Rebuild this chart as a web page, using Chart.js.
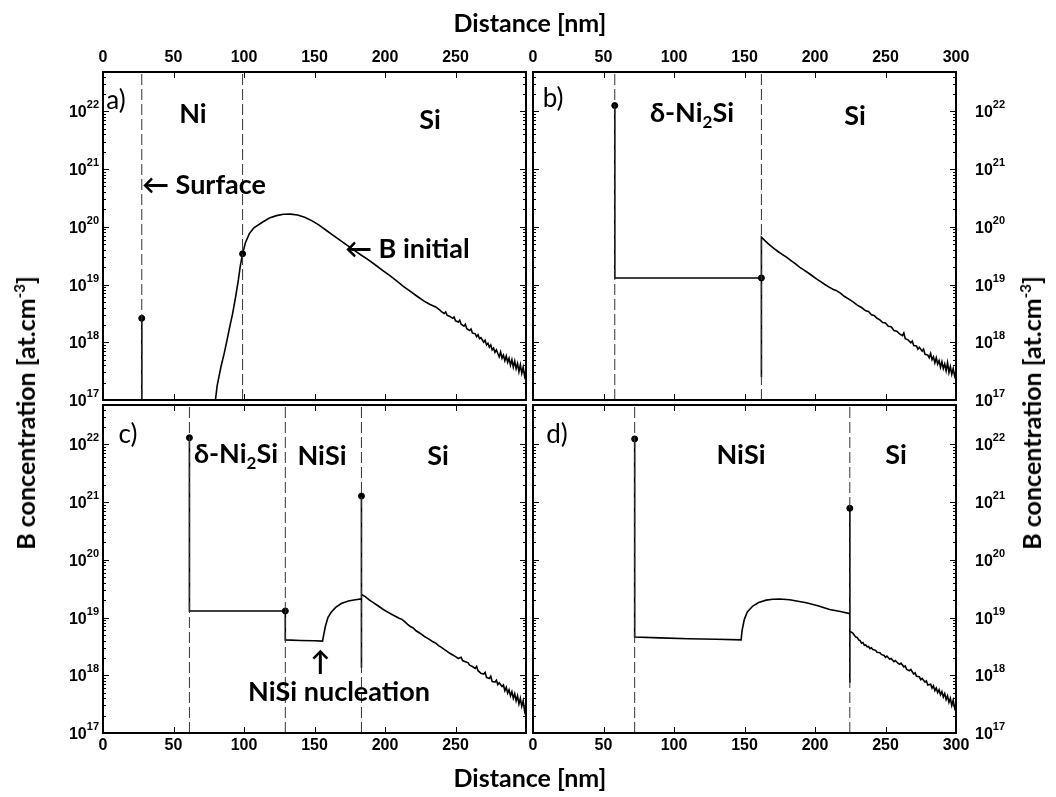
<!DOCTYPE html>
<html>
<head>
<meta charset="utf-8">
<script src="https://cdn.jsdelivr.net/npm/chart.js"></script>
<style>
  body { margin: 0; background: #fff; }
  #wrap { position: relative; width: 1056px; height: 797px; font-family: Lato, "Open Sans", sans-serif; color: #000; }
  canvas { position: absolute; left: 0; top: 0; }
  .t { position: absolute; white-space: nowrap; line-height: 1; font-weight: bold; font-size: 27px; transform: translate(-50%, -50%); }
  .l { transform: translate(0, -50%); }
  .tag { font-weight: normal; font-size: 26px; }
  .ax { font-size: 25px; }
  .rot { transform: translate(-50%, -50%) rotate(-90deg); }
  sub { font-size: 17px; vertical-align: -6px; }
  sup { font-size: 15px; vertical-align: 10px; }
</style>
</head>
<body>
<div id="wrap">
  <canvas id="pa" width="1056" height="797"></canvas>
  <canvas id="pb" width="1056" height="797"></canvas>
  <canvas id="pc" width="1056" height="797"></canvas>
  <canvas id="pd" width="1056" height="797"></canvas>

  <div class="t ax" style="left:530px; top:22px;">Distance [nm]</div>
  <div class="t ax" style="left:530px; top:777px;">Distance [nm]</div>
  <div class="t ax rot" style="left:25px; top:413px;">B concentration [at.cm<sup>-3</sup>]</div>
  <div class="t ax rot" style="left:1031px; top:413px;">B concentration [at.cm<sup>-3</sup>]</div>

  <div class="t tag" style="left:116px; top:99px;">a)</div>
  <div class="t" style="left:193px; top:112px;">Ni</div>
  <div class="t" style="left:430px; top:118px;">Si</div>
  <div class="t l" style="left:142px; top:183px;">&larr; Surface</div>
  <div class="t l" style="left:345px; top:247px;">&larr; B initial</div>

  <div class="t tag" style="left:553px; top:97px;">b)</div>
  <div class="t" style="left:692px; top:114px;">&delta;-Ni<sub>2</sub>Si</div>
  <div class="t" style="left:855px; top:114px;">Si</div>

  <div class="t tag" style="left:128px; top:433px;">c)</div>
  <div class="t" style="left:236px; top:455px;">&delta;-Ni<sub>2</sub>Si</div>
  <div class="t" style="left:322px; top:454px;">NiSi</div>
  <div class="t" style="left:438px; top:454px;">Si</div>
  <div class="t" style="left:320px; top:660px;">&uarr;</div>
  <div class="t" style="left:339px; top:690px;">NiSi nucleation</div>

  <div class="t tag" style="left:557px; top:433px;">d)</div>
  <div class="t" style="left:741px; top:453px;">NiSi</div>
  <div class="t" style="left:896px; top:453px;">Si</div>
</div>

<script>
// Axis ranges and tick labels
const xMin = 0, xMax = 300;
const yMin = 1e17, yMax = 4.8e22;
const yTickExps = [17, 18, 19, 20, 21, 22];
const xTicksAC = [0, 50, 100, 150, 200, 250];
const xTicksBD = [0, 50, 100, 150, 200, 250, 300];

// a) as-implanted profile
const aIfaces = [27.5, 99];
const aSurfX = [27.5, 27.5];
const aSurfY = [2.6e18, 6e16];
const aProfX = [79, 81, 83.7, 86, 88, 90, 92, 94, 96, 97.5, 99, 101, 103.8, 107, 113, 118, 123, 128, 133, 138, 143, 148, 153, 158, 163, 168, 173, 178, 183, 188, 193, 198, 203, 208, 213, 218, 223, 228, 232, 236, 239,
  240, 242, 243, 244, 246, 248, 249, 250, 252, 253, 254, 256, 257, 258, 260, 261, 262, 264, 265, 266, 267, 268, 270, 271, 272, 273, 274, 275, 276, 277, 278, 279, 280, 281, 282, 283, 284, 285, 286, 287, 288, 289, 290, 291, 292, 293, 294, 295, 296, 297, 298, 299, 300];
const aProfY = [7e16, 1.8e17, 3.8e17, 6.5e17, 1.1e18, 1.9e18, 3.2e18, 6e18, 1.2e19, 2.2e19, 3.4e19, 5.3e19, 7.6e19, 9.6e19, 1.2e20, 1.42e20, 1.56e20, 1.65e20, 1.66e20, 1.6e20, 1.46e20, 1.28e20, 1.08e20, 8.8e19, 7.2e19, 5.9e19, 4.8e19, 3.95e19, 3.25e19, 2.7e19, 2.2e19, 1.78e19, 1.45e19, 1.17e19, 9.3e18, 7.6e18, 6.2e18, 5.1e18, 4.5e18, 4.1e18, 3.6e18,
  3.4e18, 3.15e18, 3.35e18, 2.95e18, 2.8e18, 2.6e18, 2.75e18, 2.35e18, 2.25e18, 2.4e18, 2.05e18, 1.9e18, 2.05e18, 1.72e18, 1.6e18, 1.7e18, 1.45e18, 1.4e18, 1.25e18, 1.35e18, 1.15e18, 1.2e18, 1.0e18, 1.08e18, 9.0e17, 9.6e17, 8.2e17, 9.0e17, 7.4e17, 7.9e17, 6.7e17, 7.4e17, 6.4e17, 5.6e17, 6.8e17, 5.3e17, 6.0e17, 4.8e17, 5.8e17, 4.5e17, 5.3e17, 4.0e17, 5.0e17, 3.7e17, 4.7e17, 3.5e17, 4.3e17, 3.1e17, 4.1e17, 2.9e17, 3.7e17, 2.6e17, 3.3e17];
const aDotX = [27.5, 99];
const aDotY = [2.6e18, 3.4e19];

// b) delta-Ni2Si
const bIfaces = [58, 162];
const bProfX = [58, 58, 162, 162, 162, 165, 168, 171, 174, 177, 180, 183, 186, 189, 192, 195, 198, 201, 204, 207, 210, 213, 215, 218, 221, 224, 227, 230, 233, 236, 238, 240, 242, 244, 246, 248, 250, 252, 254, 256, 258, 260, 262, 263, 264, 266, 268, 269, 270, 272, 273, 274, 276, 277, 278, 280, 281, 282, 283, 284, 285, 286, 287, 288, 289, 290, 291, 292, 293, 294, 295, 296, 297, 298, 299, 300];
const bProfY = [1.26e22, 1.3e19, 1.3e19, 2.5e17, 6.6e19, 5.6e19, 4.8e19, 4.2e19, 3.7e19, 3.3e19, 2.95e19, 2.6e19, 2.3e19, 2.0e19, 1.8e19, 1.6e19, 1.42e19, 1.25e19, 1.12e19, 1.0e19, 9.0e18, 8.2e18, 7.9e18, 7.1e18, 6.2e18, 5.6e18, 5.0e18, 4.4e18, 4.0e18, 3.5e18, 3.4e18, 3.0e18, 2.9e18, 2.6e18, 2.45e18, 2.2e18, 2.15e18, 1.9e18, 1.86e18, 1.6e18, 1.55e18, 1.4e18, 1.3e18, 1.45e18, 1.15e18, 1.1e18, 9.8e17, 1.05e18, 8.8e17, 8.6e17, 7.6e17, 8.2e17, 7.0e17, 7.6e17, 6.2e17, 6.0e17, 5.4e17, 6.4e17, 5.0e17, 5.6e17, 4.4e17, 5.4e17, 4.2e17, 4.8e17, 3.7e17, 4.6e17, 3.5e17, 4.2e17, 3.2e17, 4.4e17, 3.0e17, 3.8e17, 2.8e17, 3.5e17, 2.6e17, 3.1e17];
const bDotX = [58, 162];
const bDotY = [1.26e22, 1.3e19];

// c) NiSi nucleation
const cIfaces = [61.3, 129.3, 183.3];
const cProfX = [61.3, 61.3, 129.3, 129.3, 140, 150, 155.7, 156.5, 157.7, 159.5, 162, 165, 169, 174, 179, 183.3, 183.3, 183.3, 183.3,
  186, 189, 192, 195, 198, 201, 204, 207, 210, 212, 214, 216, 218, 220, 222, 224, 226, 228, 230, 232, 234, 236, 238, 240, 242, 244, 246, 248, 250, 252, 254, 255, 257, 259, 260, 262, 264, 265, 266, 268, 270, 271, 272, 274, 275, 276, 278, 279, 280, 281, 283, 284, 285, 286, 287, 288, 289, 290, 291, 292, 293, 294, 295, 296, 297, 298, 299, 300];
const cProfY = [1.3e22, 1.3e19, 1.3e19, 4.1e18, 4.0e18, 3.95e18, 3.9e18, 5e18, 7e18, 1.0e19, 1.25e19, 1.5e19, 1.75e19, 1.93e19, 2.03e19, 2.1e19, 1.35e18, 1.27e21, 2.5e19,
  2.3e19, 2.0e19, 1.8e19, 1.6e19, 1.42e19, 1.28e19, 1.16e19, 1.06e19, 9.7e18, 9.3e18, 8.5e18, 7.6e18, 7.0e18, 6.6e18, 5.9e18, 5.5e18, 5.1e18, 4.7e18, 4.4e18, 4.1e18, 3.8e18, 3.6e18, 3.25e18, 3.05e18, 2.8e18, 2.6e18, 2.4e18, 2.25e18, 2.1e18, 1.95e18, 2.05e18, 1.8e18, 1.72e18, 1.64e18, 1.5e18, 1.42e18, 1.32e18, 1.42e18, 1.2e18, 1.08e18, 1.05e18, 1.12e18, 9.2e17, 8.8e17, 9.6e17, 7.8e17, 7.6e17, 8.2e17, 6.9e17, 7.4e17, 6.4e17, 6.8e17, 5.4e17, 6.2e17, 4.9e17, 5.6e17, 4.4e17, 5.2e17, 4.0e17, 4.8e17, 3.6e17, 4.4e17, 3.2e17, 4.0e17, 2.9e17, 3.6e17, 2.4e17, 3.0e17];
const cDotX = [61.3, 129.3, 183.3];
const cDotY = [1.3e22, 1.3e19, 1.27e21];

// d) NiSi
const dIfaces = [72.1, 224.7];
const dProfX = [72.1, 72.1, 90, 110, 130, 147.6, 148.3, 149.9, 152, 155.9, 160, 165.4, 170, 174.9, 182, 193.8, 202, 210.4, 218, 224.7, 224.7, 224.7, 224.7,
  227, 228, 229, 230, 231, 232, 233, 234, 235, 236, 237, 238, 239, 240, 241, 243, 244, 246, 247, 249, 250, 251, 253, 254, 256, 257, 259, 260, 261, 263, 264, 265, 267, 268, 270, 271, 272, 274, 275, 276, 278, 279, 280, 282, 283, 284, 285, 286, 287, 288, 289, 290, 291, 292, 293, 294, 295, 296, 297, 298, 299, 300];
const dProfY = [1.24e22, 4.6e18, 4.45e18, 4.3e18, 4.2e18, 4.1e18, 6e18, 9.3e18, 1.25e19, 1.58e19, 1.82e19, 2.0e19, 2.07e19, 2.1e19, 2.03e19, 1.8e19, 1.6e19, 1.38e19, 1.27e19, 1.17e19, 7.4e17, 7.8e20, 5.8e18,
  5.3e18, 4.9e18, 4.6e18, 4.5e18, 4.1e18, 4.0e18, 3.6e18, 3.7e18, 3.3e18, 3.35e18, 3.1e18, 3.15e18, 2.9e18, 3.0e18, 2.8e18, 2.7e18, 2.5e18, 2.45e18, 2.3e18, 2.2e18, 2.05e18, 2.15e18, 1.9e18, 1.95e18, 1.72e18, 1.8e18, 1.6e18, 1.55e18, 1.62e18, 1.4e18, 1.45e18, 1.26e18, 1.2e18, 1.26e18, 1.05e18, 1.1e18, 9.6e17, 9.4e17, 8.4e17, 8.8e17, 7.6e17, 8.0e17, 6.8e17, 7.0e17, 6.0e17, 6.6e17, 5.4e17, 6.0e17, 5.0e17, 5.6e17, 4.6e17, 5.2e17, 4.2e17, 4.8e17, 3.8e17, 4.4e17, 3.4e17, 4.0e17, 3.0e17, 3.7e17, 2.7e17, 3.2e17];
const dDotX = [72.1, 224.7];
const dDotY = [1.24e22, 7.8e20];

const tickFamily = '"Liberation Sans", Arial, sans-serif';
const tickFont = { family: tickFamily, weight: 'bold', size: 16 };

function pts(xs, ys) {
  return xs.map((x, i) => ({ x: x, y: ys[i] }));
}

// frame, inward ticks on all four sides, and 10^n labels with a real superscript
const frame = {
  id: 'frame',
  afterDatasetsDraw(chart) {
    const { ctx, chartArea: ca } = chart;
    const x = chart.scales.x, y = chart.scales.y;
    ctx.save();
    ctx.strokeStyle = '#000';
    ctx.lineWidth = 1;
    ctx.beginPath();
    x.ticks.forEach(t => {
      const px = Math.round(x.getPixelForValue(t.value)) + 0.5;
      ctx.moveTo(px, ca.top); ctx.lineTo(px, ca.top + 6);
      ctx.moveTo(px, ca.bottom); ctx.lineTo(px, ca.bottom - 6);
    });
    yTickExps.forEach(e => {
      for (let k = 1; k < 10; k++) {
        const v = k * Math.pow(10, e);
        if (v > yMax) break;
        const py = Math.round(y.getPixelForValue(v)) + 0.5;
        const len = k === 1 ? 6 : 3;
        ctx.moveTo(ca.left, py); ctx.lineTo(ca.left + len, py);
        ctx.moveTo(ca.right, py); ctx.lineTo(ca.right - len, py);
      }
    });
    ctx.stroke();
    ctx.lineWidth = 2;
    ctx.strokeRect(ca.left, ca.top, ca.right - ca.left, ca.bottom - ca.top);

    // y labels
    ctx.fillStyle = '#000';
    ctx.textBaseline = 'alphabetic';
    ctx.textAlign = 'left';
    y.ticks.forEach(t => {
      const py = y.getPixelForValue(t.value);
      const ex = String(Math.round(Math.log10(t.value)));
      ctx.font = 'bold 16px ' + tickFamily;
      const wBase = ctx.measureText('10').width;
      ctx.font = 'bold 11px ' + tickFamily;
      const wExp = ctx.measureText(ex).width;
      const x0 = y.position === 'left' ? ca.left - 4 - wBase - wExp : ca.right + 19;
      ctx.font = 'bold 16px ' + tickFamily;
      ctx.fillText('10', x0, py + 6);
      ctx.font = 'bold 11px ' + tickFamily;
      ctx.fillText(ex, x0 + wBase, py - 3);
    });
    ctx.restore();
  }
};

function makeDatasets(ifaces, lines, dotX, dotY) {
  const ds = ifaces.map(p => ({
    data: [{ x: p, y: yMin }, { x: p, y: yMax }],
    borderColor: '#333', borderWidth: 1, borderDash: [11, 4], pointRadius: 0
  }));
  lines.forEach(l => ds.push({
    data: pts(l[0], l[1]), borderColor: '#000', borderWidth: 1.6, pointRadius: 0
  }));
  ds.push({
    data: pts(dotX, dotY), showLine: false, pointRadius: 3,
    pointBackgroundColor: '#000', pointBorderColor: '#000'
  });
  return ds;
}

function makePanel(id, box, xPos, yPos, xTicks, datasets) {
  const yW = 70, xH = 30;
  const pad = {
    left: box.l - (yPos === 'left' ? yW : 0),
    right: 1056 - box.r - (yPos === 'right' ? yW : 0),
    top: box.t - (xPos === 'top' ? xH : 0),
    bottom: 797 - box.b - (xPos === 'bottom' ? xH : 0)
  };
  new Chart(document.getElementById(id), {
    type: 'line',
    data: { datasets: datasets },
    options: {
      responsive: false,
      animation: false,
      devicePixelRatio: 1,
      events: [],
      layout: { padding: pad },
      plugins: { legend: { display: false }, tooltip: { enabled: false } },
      scales: {
        x: {
          type: 'linear', position: xPos, min: xMin, max: xMax, bounds: 'data',
          grid: { display: false, drawTicks: false }, border: { display: false },
          afterBuildTicks: s => { s.ticks = xTicks.map(v => ({ value: v })); },
          afterFit: s => { s.height = xH; },
          ticks: { font: tickFont, color: '#000', padding: xPos === 'top' ? 5 : 3, maxRotation: 0, autoSkip: false }
        },
        y: {
          type: 'logarithmic', position: yPos, min: yMin, max: yMax, bounds: 'data',
          grid: { display: false, drawTicks: false }, border: { display: false },
          afterBuildTicks: s => { s.ticks = yTickExps.map(e => ({ value: Math.pow(10, e) })); },
          afterFit: s => { s.width = yW; },
          ticks: { display: false }
        }
      }
    },
    plugins: [frame]
  });
}

makePanel('pa', { l: 103, t: 72, r: 526, b: 400 }, 'top', 'left', xTicksAC,
  makeDatasets(aIfaces, [[aSurfX, aSurfY], [aProfX, aProfY]], aDotX, aDotY));
makePanel('pb', { l: 533, t: 72, r: 956, b: 400 }, 'top', 'right', xTicksBD,
  makeDatasets(bIfaces, [[bProfX, bProfY]], bDotX, bDotY));
makePanel('pc', { l: 103, t: 405, r: 526, b: 733 }, 'bottom', 'left', xTicksAC,
  makeDatasets(cIfaces, [[cProfX, cProfY]], cDotX, cDotY));
makePanel('pd', { l: 533, t: 405, r: 956, b: 733 }, 'bottom', 'right', xTicksBD,
  makeDatasets(dIfaces, [[dProfX, dProfY]], dDotX, dDotY));
</script>
</body>
</html>
